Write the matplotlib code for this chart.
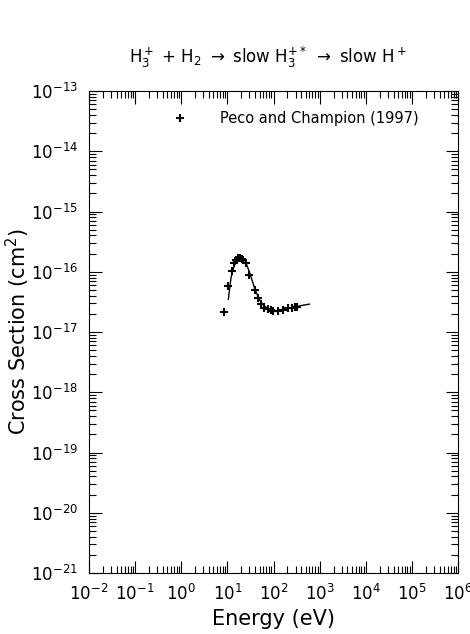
import numpy as np
import matplotlib
matplotlib.use('Agg')
import matplotlib.pyplot as plt
from matplotlib.ticker import LogLocator, NullFormatter

# Peco and Champion (1997) measured points (eV, cm^2)
energy = [8.45, 10.5, 12.4, 13.9, 15.4, 17.3, 18.8, 20.4, 22.1, 25.0, 29.9,
          39.7, 46.8, 53.6, 63.2, 74.8, 88.3, 96.0, 127, 163, 209, 248, 292, 318]
sigma = [2.17e-17, 5.9e-17, 1.03e-16, 1.38e-16, 1.57e-16, 1.67e-16, 1.71e-16,
         1.63e-16, 1.57e-16, 1.38e-16, 8.8e-17, 4.98e-17, 3.62e-17, 2.88e-17,
         2.53e-17, 2.38e-17, 2.29e-17, 2.26e-17, 2.23e-17, 2.32e-17, 2.47e-17,
         2.53e-17, 2.63e-17, 2.57e-17]

# fitted curve
fit_e = [10.5, 12, 14, 17, 20, 24, 30, 40, 50, 60, 75, 90, 110, 150, 200,
         300, 400, 600]
fit_s = [3.5e-17, 8e-17, 1.25e-16, 1.6e-16, 1.7e-16, 1.55e-16, 1.0e-16,
         5e-17, 3.4e-17, 2.8e-17, 2.45e-17, 2.3e-17, 2.25e-17, 2.3e-17,
         2.45e-17, 2.6e-17, 2.75e-17, 2.9e-17]

plt.rcParams['font.family'] = 'DejaVu Sans'
plt.rcParams['mathtext.fontset'] = 'dejavusans'

fig = plt.figure(figsize=(4.70, 6.34), dpi=100)
ax = fig.add_axes([89/470, 1 - 573/634, (458-89)/470, (573-91)/634])

ax.plot(fit_e, fit_s, color='black', lw=1)
ax.plot(energy, sigma, '+', color='black', ms=5.5, mew=1.5, ls='none')

ax.set_xscale('log')
ax.set_yscale('log')
ax.set_xlim(1e-2, 1e6)
ax.set_ylim(1e-21, 1e-13)

ax.xaxis.set_major_locator(LogLocator(base=10, numticks=20))
ax.yaxis.set_major_locator(LogLocator(base=10, numticks=20))
ax.xaxis.set_minor_locator(LogLocator(base=10, subs=np.arange(2, 10), numticks=100))
ax.yaxis.set_minor_locator(LogLocator(base=10, subs=np.arange(2, 10), numticks=100))
ax.xaxis.set_minor_formatter(NullFormatter())
ax.yaxis.set_minor_formatter(NullFormatter())

ax.tick_params(which='both', direction='in', top=True, right=True,
               width=0.8, labelsize=12)
ax.tick_params(which='major', length=9, pad=8)
ax.tick_params(which='minor', length=5)
for s in ax.spines.values():
    s.set_linewidth(0.8)

ax.set_xlabel('Energy (eV)', fontsize=15, va='center')
ax.set_ylabel('Cross Section (cm$^2$)', fontsize=15, va='center')
ax.xaxis.set_label_coords(0.5, (573 - 619) / 482)
ax.yaxis.set_label_coords((18 - 89) / 369, 0.5)

fig.text(268/470, 1 - 57/634,
         r'H$_3^+$ + H$_2$ $\rightarrow$ slow H$_3^{+*}$ $\rightarrow$ slow H$^+$',
         ha='center', va='center', fontsize=12)

# legend
fig.lines.append(plt.Line2D([180/470], [1 - 118/634], marker='+', color='black',
                            ms=5.5, mew=1.5, ls='none', transform=fig.transFigure))
fig.text(220/470, 1 - 118/634, 'Peco and Champion (1997)',
         ha='left', va='center', fontsize=10.5)

fig.savefig('out.png', dpi=100)
